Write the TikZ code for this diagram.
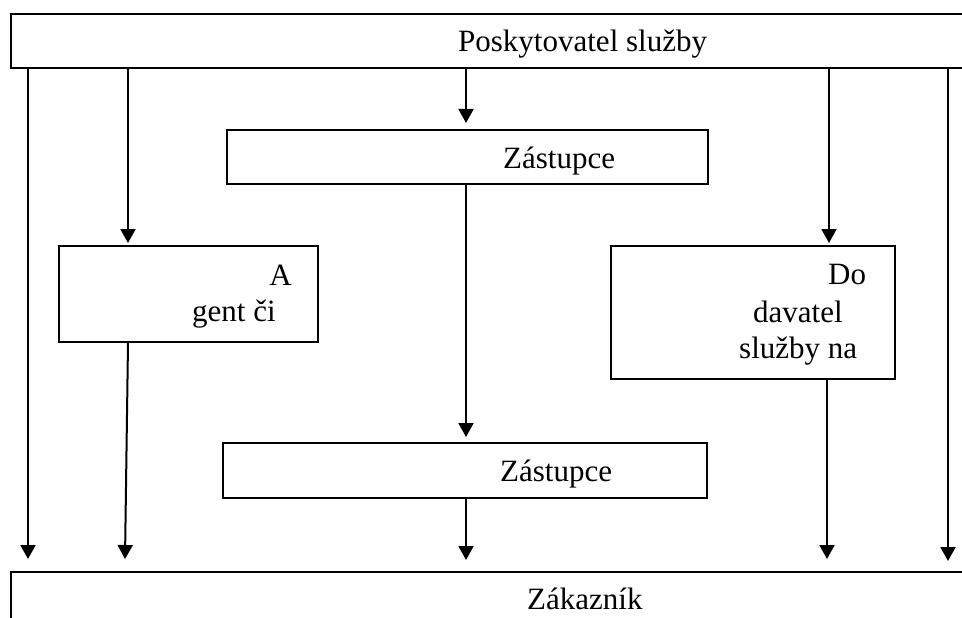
\documentclass[tikz,border=0pt]{standalone}
\usepackage{fontspec}
\setmainfont{Liberation Serif}
\usetikzlibrary{arrows.meta}
\tikzset{
  box/.style={draw, line width=2pt, inner sep=0pt, anchor=north west},
  lbl/.style={inner sep=0pt, font=\fontsize{31}{37}\selectfont},
  arr/.style={line width=2pt, -{Triangle[length=14pt, width=15pt]}}
}

\begin{document}
\begin{tikzpicture}[x=1pt, y=-1pt]
      \useasboundingbox (0,0) rectangle (962,618);
      \clip (0,0) rectangle (962,618);

      % Draw boxes
      \node[box, minimum width=990pt, minimum height=54pt] (provider) at (10,13) {};
      \node[box, minimum width=481pt, minimum height=54pt] (rep1) at (226,129) {};
      \node[box, minimum width=259pt, minimum height=96pt] (agent) at (58,245) {};
      \node[box, minimum width=284pt, minimum height=133pt] (supplier) at (610,245) {};
      \node[box, minimum width=484pt, minimum height=55pt] (rep2) at (222,442) {};
      \node[box, minimum width=990pt, minimum height=90pt] (customer) at (10,571) {};

      % Box texts
      \node[lbl, anchor=base west] (providertxt) at (458,52) {Poskytovatel služby};
      \node[lbl, anchor=base west] (rep1txt) at (503,168) {Zástupce};
      \node[lbl, anchor=base east] (agenttxta) at (292,285) {A};
      \node[lbl, anchor=base west] (agenttxtb) at (192,321) {gent či};
      \node[lbl, anchor=base west] (suppliertxta) at (828,284) {Do};
      \node[lbl, anchor=base west] (suppliertxtb) at (753,322) {davatel};
      \node[lbl, anchor=base west] (suppliertxtc) at (739,358) {služby na};
      \node[lbl, anchor=base west] (rep2txt) at (500,481) {Zástupce};
      \node[lbl, anchor=base west] (customertxt) at (527,609) {Zákazník};

      % Columns of the connectors
      \coordinate (colA) at (28,0);
      \coordinate (colB) at (128,0);
      \coordinate (colC) at (466,0);
      \coordinate (colD) at (829,0);
      \coordinate (colE) at (948,0);
      \coordinate (agentend) at (125,559);
      \coordinate (supplierend) at (827,559);

      % Connectors from the provider
      \draw[arr, shorten >=12pt] (provider.south -| colA) -- (customer.north -| colA);
      \draw[arr, shorten >=2pt] (provider.south -| colB) -- (agent.north -| colB);
      \draw[arr, shorten >=6pt] (provider.south -| colC) -- (rep1.north -| colC);
      \draw[arr, shorten >=2pt] (provider.south -| colD) -- (supplier.north -| colD);
      \draw[arr, shorten >=10pt] (provider.south -| colE) -- (customer.north -| colE);

      % Connectors to the customer
      \draw[arr, shorten >=5pt] (rep1.south -| colC) -- (rep2.north -| colC);
      \draw[arr] (agent.south -| colB) -- (agentend);
      \draw[arr, shorten >=11pt] (rep2.south -| colC) -- (customer.north -| colC);
      \draw[arr] (supplier.south -| supplierend) -- (supplierend);
    \end{tikzpicture}
\end{document}
